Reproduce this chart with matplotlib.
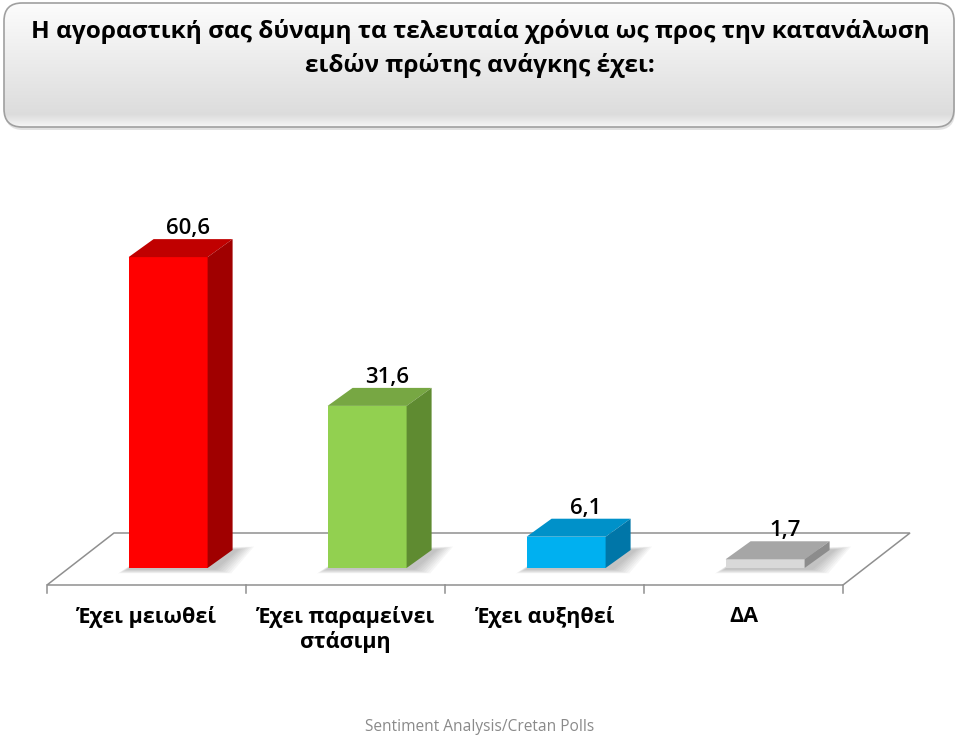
import matplotlib
matplotlib.use('Agg')
import matplotlib.pyplot as plt
import numpy as np
from matplotlib.patches import Polygon, FancyBboxPatch
from matplotlib.transforms import blended_transform_factory

# ---- data ----
categories = ['Έχει μειωθεί', 'Έχει παραμείνει\nστάσιμη', 'Έχει αυξηθεί', 'ΔΑ']
values = [60.6, 31.6, 6.1, 1.7]
value_labels = ['60,6', '31,6', '6,1', '1,7']
front_colors = ['#ff0000', '#92d050', '#00b0f0', '#d9d9d9']
top_colors = ['#c00000', '#77a743', '#0091c9', '#a6a6a6']
side_colors = ['#a00000', '#5f8b31', '#0076a8', '#8c8c8c']
title_lines = ['Η αγοραστική σας δύναμη τα τελευταία χρόνια ως προς την κατανάλωση',
               'ειδών πρώτης ανάγκης έχει:']
footer = 'Sentiment Analysis/Cretan Polls'

FONT = ['Open Sans', 'DejaVu Sans']
plt.rcParams['font.family'] = FONT

W, H = 960, 736
fig = plt.figure(figsize=(W / 100, H / 100), dpi=100)
fig.patch.set_facecolor('white')

# background axes in pixel coordinates (for title box, footer)
bg = fig.add_axes([0, 0, 1, 1])
bg.set_xlim(0, W)
bg.set_ylim(H, 0)
bg.axis('off')

# title box with vertical gradient
box = FancyBboxPatch((4, 3), 950, 124, boxstyle='round,pad=0,rounding_size=18',
                     facecolor='none', edgecolor='#a0a0a0', lw=1.2, zorder=3)
shadow = FancyBboxPatch((5, 6), 950, 124, boxstyle='round,pad=0,rounding_size=18',
                        facecolor='#cfcfcf', edgecolor='none', zorder=1, alpha=0.6)
bg.add_patch(shadow)
bg.add_patch(box)
grad = np.linspace(0, 1, 256)
cols = np.empty((256, 1, 3))
top_c = np.array([0.99, 0.99, 0.99])
bot_c = np.array([0.85, 0.85, 0.85])
for k, t in enumerate(grad):
    c = top_c * (1 - t) + bot_c * t
    if t > 0.9:
        c = c + (t - 0.9) / 0.1 * (np.array([0.97, 0.97, 0.97]) - c)
    cols[k, 0] = c
im = bg.imshow(cols, extent=(4, 954, 127, 3), aspect='auto', zorder=2, interpolation='bilinear')
im.set_clip_path(box)

title_y = [32, 66]
for line, y in zip(title_lines, title_y):
    bg.text(480, y, line, ha='center', va='center', fontsize=17.6, fontweight='bold',
            color='black', zorder=4)

bg.text(480, 727, footer, ha='center', va='center', fontsize=11.2, color='#8a8a8a')

# ---- chart axes ----
PX_PER_CAT = 199.0
PX_PER_UNIT = 5.13
YMAX = 70
ax_left_px = 68.6
base_px = 568
ax = fig.add_axes([ax_left_px / W, (H - base_px) / H, 4 * PX_PER_CAT / W, YMAX * PX_PER_UNIT / H])
ax.set_xlim(-0.5, 3.5)
ax.set_ylim(0, YMAX)
ax.axis('off')

x = np.arange(len(values))
bw = 79 / PX_PER_CAT
dx = 25 / PX_PER_CAT
dy = 18 / PX_PER_UNIT

# floor
fx, fy = -21.6 / PX_PER_CAT, -17 / PX_PER_UNIT
bx, by = 45.4 / PX_PER_CAT, 35 / PX_PER_UNIT
x0, x1 = -0.5, len(values) - 0.5
floor = Polygon([(x0 + fx, fy), (x1 + fx, fy), (x1 + bx, by), (x0 + bx, by)], closed=True,
                facecolor='white', edgecolor='#8f8f8f', lw=1.1, clip_on=False, zorder=1)
ax.add_patch(floor)
for b in np.arange(x0, x1 + 0.01, 1.0):
    ax.plot([b + fx, b + fx], [fy, fy - 8 / PX_PER_UNIT], color='#8f8f8f', lw=1.1,
            clip_on=False, zorder=1)

# soft shadows (layered, shrinking to mimic blur)
for xi in x:
    l, r = xi - bw / 2, xi + bw / 2
    for k in range(8):
        g = (8 - k) * 2.2  # spread in pixels
        poly = Polygon([(l - g * 0.6 / PX_PER_CAT, -(1 + g * 0.25) / PX_PER_UNIT),
                        (r + (6 + g) / PX_PER_CAT, -(1 + g * 0.25) / PX_PER_UNIT),
                        (r + dx + (4 + g) / PX_PER_CAT, dy + (g * 0.2) / PX_PER_UNIT),
                        (l + dx, dy)],
                       closed=True, facecolor='#404040', edgecolor='none', alpha=0.045,
                       clip_on=False, zorder=1.5)
        ax.add_patch(poly)

bars = ax.bar(x, values, width=bw, color=front_colors, zorder=3, clip_on=False)
for xi, v, tc, sc in zip(x, values, top_colors, side_colors):
    l, r = xi - bw / 2, xi + bw / 2
    ax.add_patch(Polygon([(l, v), (r, v), (r + dx, v + dy), (l + dx, v + dy)], closed=True,
                         facecolor=tc, edgecolor='none', zorder=3, clip_on=False))
    ax.add_patch(Polygon([(r, 0), (r + dx, dy), (r + dx, v + dy), (r, v)], closed=True,
                         facecolor=sc, edgecolor='none', zorder=3, clip_on=False))

for xi, v, lab in zip(x, values, value_labels):
    ax.annotate(lab, (xi + dx * 0.8, v + dy), xytext=(0, 5), textcoords='offset pixels',
                ha='center', va='baseline', fontsize=16, fontweight='semibold',
                color='black', zorder=5, annotation_clip=False)

trans = blended_transform_factory(ax.transData, fig.transFigure)
for xi, cat in zip(x, categories):
    ax.text(xi + fx, (H - 606) / H, cat, transform=trans, ha='center', va='top',
            fontsize=15.5, fontweight='bold', linespacing=1.2, clip_on=False)

fig.savefig('out.png', dpi=100, facecolor='white')
